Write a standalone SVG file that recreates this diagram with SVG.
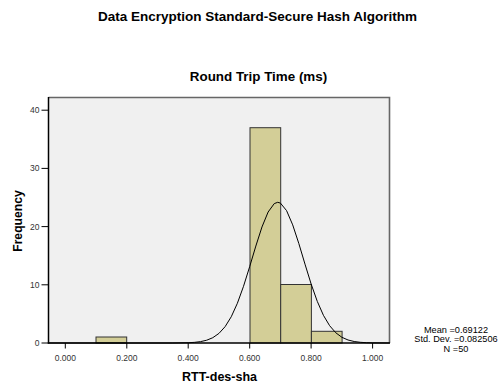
<svg xmlns="http://www.w3.org/2000/svg" width="503" height="383" viewBox="0 0 503 383">
  <style>
    .title { font-family: "Liberation Sans", Arial, sans-serif; font-weight: bold; fill: #000; }
    .tick { font-family: "Liberation Sans", Arial, sans-serif; font-size: 8.5px; fill: #333; }
    .stat { font-family: "Liberation Sans", Arial, sans-serif; font-size: 9.2px; fill: #000; }
    .bar { fill: #d3ce97; stroke: #333; stroke-width: 1; }
    .tk { stroke: #000; stroke-width: 1; }
  </style>
  <rect width="503" height="383" fill="#fff"/>

  <!-- titles -->
  <text class="title" x="257.5" y="21" font-size="13.5" text-anchor="middle">Data Encryption Standard-Secure Hash Algorithm</text>
  <text class="title" x="258.5" y="80.5" font-size="13.4" text-anchor="middle">Round Trip Time (ms)</text>

  <!-- plot area -->
  <g id="plot-area">
    <rect x="48.5" y="97.5" width="341" height="245.5" fill="#f0f0f0"/>
    <polyline points="48.5,97.5 389.5,97.5 389.5,343" fill="none" stroke="#666" stroke-width="1.6"/>
  </g>

  <!-- histogram bars -->
  <g id="bars">
    <rect class="bar" x="96" y="337" width="30.7" height="6"/>
    <rect class="bar" x="250" y="127.7" width="30.7" height="215.3"/>
    <rect class="bar" x="280.7" y="284.5" width="30.7" height="58.5"/>
    <rect class="bar" x="311.4" y="331.3" width="30.7" height="11.7"/>
  </g>

  <!-- fitted normal curve -->
  <polyline id="normal-curve" fill="none" stroke="#000" stroke-width="1" stroke-linejoin="round"
    points="48.5,343 172.86,343 188.22,342.72 194.37,342.37 200.51,341.64 206.66,340.23 212.8,337.69 218.95,333.41 225.1,326.66 231.24,316.77 237.39,303.28 243.53,286.29 249.68,266.64 255.83,246.06 261.97,226.96 268.12,212.02 274.26,203.6 277.71,202.3 280.41,203.09 286.56,210.6 292.7,224.86 298.85,243.6 304.99,264.14 311.14,284 317.29,301.39 323.43,315.32 329.58,325.64 335.72,332.73 341.87,337.27 348.02,339.99 354.16,341.51 360.31,342.3 366.45,342.69 372.6,342.87 389.5,343"/>

  <!-- axes -->
  <g id="axes">
    <line x1="48.5" y1="97" x2="48.5" y2="343.7" stroke="#000" stroke-width="1.5"/>
    <line x1="47.8" y1="343" x2="390" y2="343" stroke="#000" stroke-width="1.5"/>
    <!-- y ticks -->
    <line class="tk" x1="41.5" y1="343" x2="48" y2="343"/>
    <line class="tk" x1="41.5" y1="284.8" x2="48" y2="284.8"/>
    <line class="tk" x1="41.5" y1="226.6" x2="48" y2="226.6"/>
    <line class="tk" x1="41.5" y1="168.4" x2="48" y2="168.4"/>
    <line class="tk" x1="41.5" y1="110.2" x2="48" y2="110.2"/>
    <!-- x ticks -->
    <line class="tk" x1="65.3" y1="343" x2="65.3" y2="348.5"/>
    <line class="tk" x1="126.8" y1="343" x2="126.8" y2="348.5"/>
    <line class="tk" x1="188.2" y1="343" x2="188.2" y2="348.5"/>
    <line class="tk" x1="249.7" y1="343" x2="249.7" y2="348.5"/>
    <line class="tk" x1="311.1" y1="343" x2="311.1" y2="348.5"/>
    <line class="tk" x1="372.6" y1="343" x2="372.6" y2="348.5"/>
  </g>

  <!-- tick labels -->
  <g id="y-labels" text-anchor="end">
    <text class="tick" x="39.5" y="346">0</text>
    <text class="tick" x="39.5" y="287.8">10</text>
    <text class="tick" x="39.5" y="229.6">20</text>
    <text class="tick" x="39.5" y="171.4">30</text>
    <text class="tick" x="39.5" y="113.2">40</text>
  </g>
  <g id="x-labels" text-anchor="middle">
    <text class="tick" x="65.3" y="361">0.000</text>
    <text class="tick" x="126.8" y="361">0.200</text>
    <text class="tick" x="188.2" y="361">0.400</text>
    <text class="tick" x="249.7" y="361">0.600</text>
    <text class="tick" x="311.1" y="361">0.800</text>
    <text class="tick" x="372.6" y="361">1.000</text>
  </g>

  <!-- axis titles -->
  <text class="title" x="219.5" y="380.5" font-size="12.5" text-anchor="middle">RTT-des-sha</text>
  <text class="title" transform="translate(21.5,221) rotate(-90)" font-size="12.2" text-anchor="middle">Frequency</text>

  <!-- summary statistics -->
  <g id="stats" text-anchor="middle">
    <text class="stat" x="456" y="332.8">Mean =0.69122</text>
    <text class="stat" x="456" y="342.4">Std. Dev. =0.082506</text>
    <text class="stat" x="456" y="352">N =50</text>
  </g>
</svg>
